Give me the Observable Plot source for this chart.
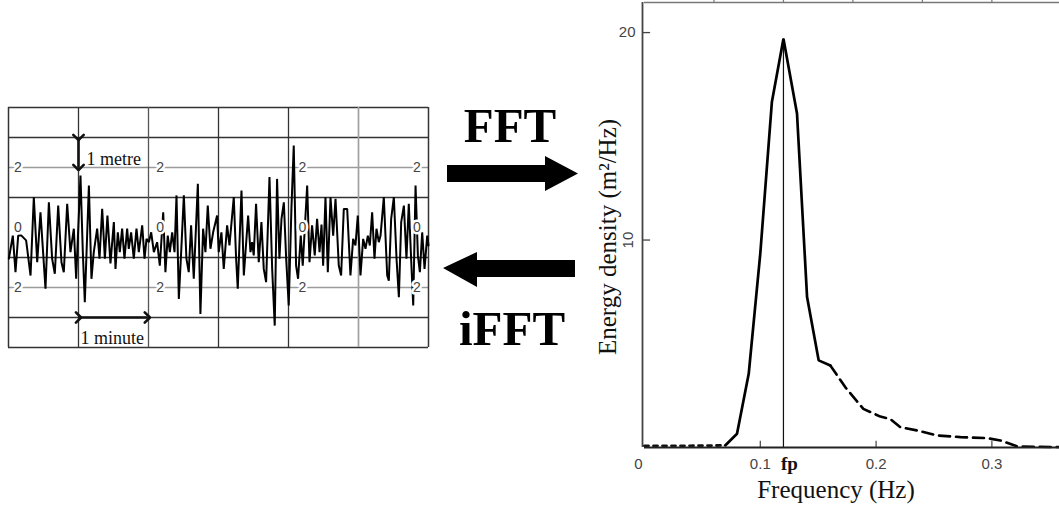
<!DOCTYPE html>
<html>
<head>
<meta charset="utf-8">
<script src="https://cdn.jsdelivr.net/npm/d3@7"></script>
<script src="https://cdn.jsdelivr.net/npm/@observablehq/plot@0.6"></script>
<style>
  html, body { margin: 0; padding: 0; background: #fff; }
  #figure { position: relative; width: 1059px; height: 508px; overflow: hidden; background: #fff; }
  #figure > svg { position: absolute; top: 0; left: 0; }
</style>
</head>
<body>
<div id="figure"></div>
<script>
// ---- Sea-surface record: time (s) and surface elevation (m) ----
const waveTime = [
  0.3, 3.7, 6.0, 8.3, 11.1, 15.1, 18.9, 21.7, 24.6, 27.4,
  31.7, 34.6, 37.4, 39.7, 42.6, 45.4, 47.4, 50.3, 53.1, 56.0,
  58.0, 61.7, 63.7, 65.4, 68.9, 71.1, 73.1, 76.0, 78.0, 80.3,
  82.6, 84.8, 87.4, 90.3, 91.7,
  93.7, 95.4, 97.4, 99.4, 101.7, 103.1, 105.1, 107.4, 109.7, 111.7,
  114.6, 116.6, 118.3, 120.3, 122.3, 124.6, 127.4, 129.7, 132.6, 134.5,
  136.5, 138.3, 140.3, 142.3, 144.0, 146.0, 148.0, 150.3, 152.5, 154.5,
  156.5, 158.8, 162.3, 164.5, 166.8, 168.8, 170.8, 173.1, 175.4,
  178.8, 180.2, 182.5, 184.5, 187.4, 189.4, 193.1, 195.1, 196.5, 199.7,
  201.7, 205.4, 207.4, 208.8, 210.2, 212.2, 214.5, 216.8, 218.8, 220.8,
  223.7, 226.0, 228.2, 230.2, 232.2, 234.0, 236.0, 238.0, 240.2, 242.5,
  244.5, 246.5, 248.2, 250.5, 252.2, 256.0, 258.0, 260.2, 262.5, 264.5,
  266.6, 268.3,
  269.7, 271.7, 273.7, 276.0, 278.3, 280.3, 283.1, 285.1, 287.4, 290.3,
  293.1, 295.4, 297.4, 299.4, 301.7, 304.0, 306.0, 308.0, 309.7, 311.7,
  313.7, 315.4, 317.4, 318.9, 321.7, 324.6, 326.0, 328.0, 330.3, 332.6,
  334.6, 336.6, 338.9, 341.1, 343.1, 345.1, 346.9, 348.9, 350.9, 352.6,
  354.6, 356.6, 358.9, 360
];
const waveHeight = [
  -1.04, -0.27, -1.49, -0.27, -0.27, -0.43, -1.6, 1.01, -1.16, 0.51,
  -2.04, 0.84, -1.04, -1.54, 0.73, -1.16, -1.49, 0.79, -0.82, -0.04,
  -1.71, 1.73, -0.82, -2.49, 1.4, -1.71, -0.82, -0.04, -1.04, 0.62,
  -1.04, 0.4, -1.2, 0.18, -1.38,
  -0.16, -0.82, -0.04, -1.04, -0.04, -0.71, -0.16, -1.04, -0.04, -0.82,
  0.07, -1.04, -0.38, -0.49, -0.16, -0.82, -0.49, -1.27, 0.51, -1.49,
  -0.27, -0.82, -0.16, -0.82, 1.07, -2.38, -0.82, 1.07, -1.04, -1.49,
  0.07, -1.71, 1.46, -2.88, -0.04, -0.82, 0.73, -0.71, -0.16,
  0.4, -0.82, -0.16, -1.38, 0.07, -0.6, 1.01, -1.04, -2.04, 1.23,
  -1.6, 0.4, -0.82, -0.49, -0.93, 0.79, -1.16, 0.18, -1.38, -1.82,
  1.68, -1.38, -3.27, 1.62, -1.04, 0.29, 0.84, -1.04, -2.6, 0.62,
  2.73, -1.27, -1.71, -0.27, -1.27, 1.4, -1.16, 0.07, -0.93, 0.29,
  -0.82, 0.1,
  -1.27, 1.01, -1.49, 1.01, -0.27, 0.96, -1.27, -1.6, 0.62, 0.62,
  -1.6, -0.38, -0.6, 0.4, -1.6, -0.38, -0.71, -0.27, -0.6, 0.51,
  -1.04, -0.04, -0.49, -0.27, 1.01, -1.6, -1.77, 0.29, 1.01, -1.04,
  -2.32, 0.18, 0.73, -1.04, 0.79, -1.04, -2.6, 1.4, -0.93, -1.49,
  -0.16, -1.38, -0.27, -0.6
];

// Chart-paper grid of the record (seconds, metres)
const recordDuration = 360;
const paperRows = [4, 3, 1, -1, -3, -4];
const paperScaleRows = [2, -2];
const paperColumns = [60, 120, 180, 240, 300];
const paperScaleTimes = [8, 130, 252, 350];
const paperScaleValues = [2, 0, -2];
const paperScaleText = ["2", "0", "2"];

// ---- Energy spectrum: frequency (Hz) and energy density (m²/Hz) ----
const floorFreq = [0, 0.035, 0.0697];
const floorEnergy = [0.08, 0.08, 0.1];
const peakFreq = [0.0697, 0.0799, 0.090, 0.100, 0.110, 0.120, 0.1317, 0.1404, 0.1504, 0.1605];
const peakEnergy = [0.1, 0.66, 3.55, 9.35, 16.65, 19.7, 16.1, 7.25, 4.2, 3.95];
const tailFreq = [0.1605, 0.1735, 0.189, 0.2037, 0.212, 0.221, 0.2355, 0.2527, 0.2729, 0.296, 0.3074, 0.322, 0.3586];
const tailEnergy = [3.95, 2.9, 1.86, 1.49, 1.38, 0.98, 0.82, 0.58, 0.5, 0.45, 0.34, 0.05, 0.02];

const freqTicks = [0, 0.1, 0.2, 0.3];
const freqTickLabels = ["0", "0.1", "0.2", "0.3"];
const topTicks = [0.06, 0.12, 0.18, 0.24, 0.30];
const energyTicks = [10, 20];

const zip = (xs, ys, kx, ky) => xs.map((v, i) => ({[kx]: v, [ky]: ys[i]}));
const wave = zip(waveTime, waveHeight, "t", "h");
const floor = zip(floorFreq, floorEnergy, "f", "e");
const peak = zip(peakFreq, peakEnergy, "f", "e");
const tail = zip(tailFreq, tailEnergy, "f", "e");
const freqLabels = zip(freqTicks, freqTickLabels, "f", "label");
const fp = peakFreq[d3.maxIndex(peakEnergy)];
const fpEnergy = d3.max(peakEnergy);

const SERIF = "'Liberation Serif', 'Times New Roman', serif";
const SANS = "'Liberation Sans', Arial, sans-serif";

// ---- Spectrum panel ----
const yTop = 21.45;
const tickText = {fontSize: 15, fontFamily: SANS, fill: "#444"};
const spectrum = Plot.plot({
  width: 1059, height: 508,
  marginLeft: 644, marginRight: 0, marginTop: 2, marginBottom: 61,
  x: {domain: [0, 0.3584], axis: null},
  y: {domain: [0, yTop], axis: null},
  style: {background: "white", overflow: "visible"},
  marks: [
    Plot.ruleY([yTop], {stroke: "#777", strokeWidth: 1.5}),
    Plot.ruleX(topTicks, {y1: yTop, y2: yTop + 0.15, stroke: "#777", strokeWidth: 1.2}),
    Plot.ruleX([0], {dx: -2, stroke: "#444", strokeWidth: 1.8}),
    Plot.ruleX(freqTicks.slice(1), {y1: 0, y2: 0.3, stroke: "#444", strokeWidth: 1.2}),
    Plot.ruleY(energyTicks, {x1: 0, x2: 0.007, dx: -2, stroke: "#444", strokeWidth: 1.3}),
    Plot.ruleX([fp], {y1: 0, y2: fpEnergy, stroke: "#111", strokeWidth: 1.2}),
    Plot.line(floor, {x: "f", y: "e", stroke: "#111", strokeWidth: 2.8, strokeDasharray: "4,5"}),
    Plot.line(peak, {x: "f", y: "e", stroke: "#000", strokeWidth: 2.7, strokeLinejoin: "miter"}),
    Plot.line(tail, {x: "f", y: "e", stroke: "#000", strokeWidth: 2.6, strokeDasharray: "11,6"}),
    Plot.ruleY([0], {stroke: "#222", strokeWidth: 2.2}),
    // frequency tick labels
    Plot.text(freqLabels.slice(0, 1), {
      x: "f", y: 0, dy: 17, dx: -6, text: "label", lineAnchor: "middle", ...tickText
    }),
    Plot.text(freqLabels.slice(1), {
      x: "f", y: 0, dy: 17, text: "label", lineAnchor: "middle", ...tickText
    }),
    Plot.text(["fp"], {
      x: fp, y: 0, dy: 16, dx: 6, text: d => d, lineAnchor: "middle",
      fontSize: 19, fontWeight: "bold", fontFamily: SERIF, fill: "#111"
    }),
    // energy tick labels
    Plot.text([20], {x: 0, y: d => d, dx: -9, text: d => String(d), textAnchor: "end", ...tickText}),
    Plot.text([10], {x: 0, y: d => d, dx: -16, text: d => String(d), rotate: -90, ...tickText}),
    // axis titles
    Plot.text(["Energy density (m\u00B2/Hz)"], {
      frameAnchor: "left", dx: -37, dy: 12, rotate: -90, text: d => d,
      textAnchor: "middle", lineAnchor: "middle",
      fontSize: 25, fontFamily: SERIF, fill: "#111"
    }),
    Plot.text(["Frequency (Hz)"], {
      frameAnchor: "bottom", dx: -16, dy: 50, text: d => d,
      textAnchor: "middle", lineAnchor: "bottom",
      fontSize: 25, fontFamily: SERIF, fill: "#111"
    })
  ]
});

// ---- Wave record panel ----
const scaleLabels = paperScaleTimes.flatMap(t =>
  paperScaleValues.map((v, i) => ({t, h: v, label: paperScaleText[i]})));

const record = Plot.plot({
  width: 440, height: 360,
  marginLeft: 8, marginRight: 12, marginTop: 107, marginBottom: 13,
  x: {domain: [0, recordDuration], axis: null},
  y: {domain: [-4, 4], axis: null},
  style: {background: "transparent", overflow: "visible"},
  marks: [
    Plot.ruleY(paperScaleRows, {stroke: "#9a9a9a", strokeWidth: 1.6}),
    Plot.ruleY(paperRows, {stroke: "#333", strokeWidth: 1.3}),
    Plot.ruleX(paperColumns, {
      stroke: d => (d === 300 ? "#a0a0a0" : d === 120 ? "#555" : "#333"),
      strokeWidth: d => (d === 300 ? 1.7 : 1.3)
    }),
    Plot.ruleX([0, recordDuration], {stroke: "#333", strokeWidth: 1.5}),
    Plot.line(wave, {x: "t", y: "h", stroke: "#000", strokeWidth: 2, strokeLinejoin: "miter"}),
    Plot.text(scaleLabels, {
      x: "t", y: "h", text: "label", lineAnchor: "middle",
      fontSize: 14, fontFamily: SANS, fill: "#444",
      stroke: "white", strokeWidth: 5, paintOrder: "stroke"
    }),
    // one-metre scale bar
    Plot.link([{x: 60}], {
      x1: "x", x2: "x", y1: 3, y2: 2,
      stroke: "#111", strokeWidth: 2.6, markerStart: "arrow", markerEnd: "arrow"
    }),
    Plot.text(["1 metre"], {
      x: 60, y: 2, dx: 8, dy: -3, text: d => d, textAnchor: "start", lineAnchor: "bottom",
      fontSize: 18, fontFamily: SERIF, fill: "#111"
    }),
    // one-minute scale bar
    Plot.link([{y: -3}], {
      x1: 60, x2: 119, y1: "y", y2: "y",
      stroke: "#111", strokeWidth: 2.6, markerStart: "arrow", markerEnd: "arrow"
    }),
    Plot.text(["1 minute"], {
      x: 60, y: -4, dx: 2, dy: -4, text: d => d, textAnchor: "start", lineAnchor: "bottom",
      fontSize: 18, fontFamily: SERIF, fill: "#111"
    })
  ]
});

// ---- Transform arrows between the panels ----
const ns = "http://www.w3.org/2000/svg";
const arrows = document.createElementNS(ns, "svg");
arrows.setAttribute("width", 1059);
arrows.setAttribute("height", 508);
arrows.setAttribute("viewBox", "0 0 1059 508");
const serifAttr = SERIF.replace(/'/g, "");
arrows.innerHTML = `
  <text x="510" y="142" text-anchor="middle" font-family="${serifAttr}" font-weight="bold" font-size="49" fill="#000">FFT</text>
  <polygon points="447,165 545,165 545,156 578,173.5 545,191 545,182 447,182" fill="#000"/>
  <polygon points="443,268 477,252 477,260 575,260 575,277 477,277 477,287" fill="#000"/>
  <text x="512" y="345" text-anchor="middle" font-family="${serifAttr}" font-weight="bold" font-size="49" fill="#000">iFFT</text>
`;

const fig = document.getElementById("figure");
fig.append(spectrum, record, arrows);
</script>
</body>
</html>
